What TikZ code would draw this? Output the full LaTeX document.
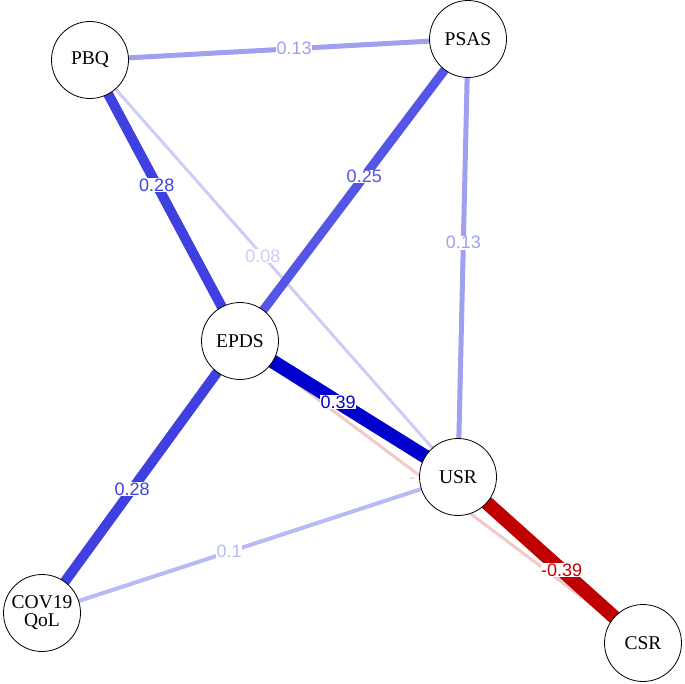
\documentclass[tikz,border=0pt]{standalone}
\usepackage{fontspec}
\setmainfont{Liberation Serif}
\newfontfamily\labfont{Liberation Sans}
\definecolor{cA}{RGB}{0,0,205}
\definecolor{cB}{RGB}{64,64,224}
\definecolor{cC}{RGB}{85,85,230}
\definecolor{cD}{RGB}{160,160,240}
\definecolor{cE}{RGB}{185,185,245}
\definecolor{cF}{RGB}{205,205,248}
\definecolor{cR}{RGB}{192,0,0}
\definecolor{cP}{RGB}{242,200,200}
\tikzset{
  vnode/.style={circle, draw=black, line width=0.8pt, fill=white, minimum size=77pt, inner sep=0pt, align=center, font=\fontsize{19.5}{18}\selectfont},
  elab/.style={fill=white, inner sep=0.5pt, font=\labfont\fontsize{18}{18}\selectfont},
}
\begin{document}
\begin{tikzpicture}[x=1pt,y=-1pt]
\useasboundingbox (0,0) rectangle (685,684);
\coordinate (pPBQ) at (90,60);
\coordinate (pPSAS) at (468,39);
\coordinate (pEPDS) at (240,341);
\coordinate (pUSR) at (458,477);
\coordinate (pCSR) at (643,643);
\coordinate (pCOV) at (42,613);
% edges
\draw[cP, line width=3pt] (pEPDS) -- node[pos=0.436, xshift=-3pt, yshift=-8pt, text=cP, font=\labfont\fontsize{18}{18}\selectfont, inner sep=0pt] (lEC) {-} (pCSR);
\draw[cF, line width=3pt] (pPBQ) -- node[elab, text=cF, pos=0.47] (lPU) {0.08} (pUSR);
\draw[cE, line width=4pt] (pCOV) -- node[elab, text=cE, pos=0.45] (lCU) {0.1} (pUSR);
\draw[cD, line width=5pt] (pPBQ) -- node[elab, text=cD, pos=0.54] (lPP) {0.13} (pPSAS);
\draw[cD, line width=5pt] (pPSAS) -- node[elab, text=cD, pos=0.465] (lSU) {0.13} (pUSR);
\draw[cC, line width=9pt] (pPSAS) -- node[elab, text=cC, pos=0.455] (lSE) {0.25} (pEPDS);
\draw[cB, line width=10pt] (pPBQ) -- node[elab, text=cB, pos=0.445] (lPE) {0.28} (pEPDS);
\draw[cB, line width=10pt] (pEPDS) -- node[elab, text=cB, pos=0.545] (lEC2) {0.28} (pCOV);
\draw[cA, line width=14pt] (pEPDS) -- node[elab, text=cA, pos=0.45] (lEU) {0.39} (pUSR);
\draw[cR, line width=14pt] (pUSR) -- node[elab, text=cR, pos=0.56] (lUC) {-0.39} (pCSR);
% nodes
\node[vnode] (PBQ) at (pPBQ) {PBQ};
\node[vnode] (PSAS) at (pPSAS) {PSAS};
\node[vnode] (EPDS) at (pEPDS) {EPDS};
\node[vnode] (USR) at (pUSR) {USR};
\node[vnode] (CSR) at (pCSR) {CSR};
\node[vnode] (COV) at (pCOV) {COV19\\QoL};
\end{tikzpicture}
\end{document}
